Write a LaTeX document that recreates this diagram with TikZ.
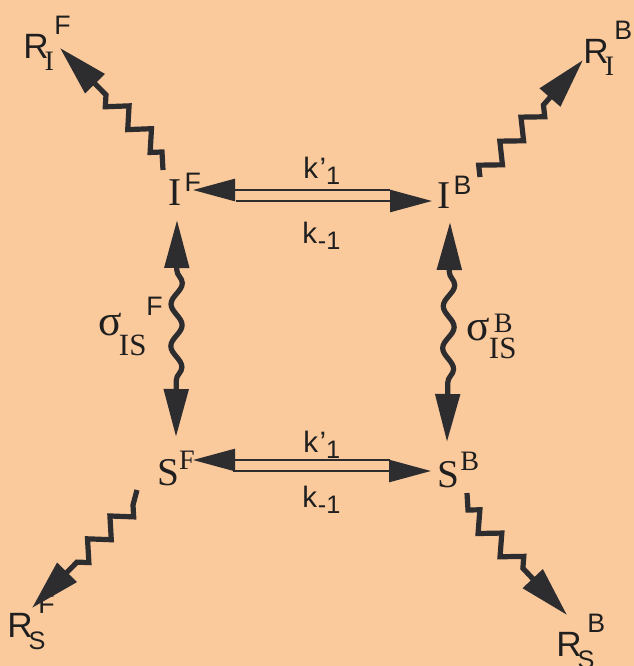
\documentclass[tikz,border=0pt]{standalone}
\usepackage{fontspec}
\setmainfont{Liberation Serif}
\setsansfont{Liberation Sans}
\usetikzlibrary{arrows.meta,decorations.pathmorphing}
\definecolor{peach}{RGB}{250,201,156}
\definecolor{ink}{RGB}{45,45,48}
\newcommand\bigrm{\fontsize{28}{30}\selectfont}
\newcommand\midsf{\sffamily\fontsize{25}{27}\selectfont}
\newcommand\smsf{\sffamily\fontsize{19}{21}\selectfont}
\newcommand\smrm{\fontsize{20}{22}\selectfont}
\newcommand\tinysf{\sffamily\fontsize{18}{20}\selectfont}
\newcommand\rlab[2]{{\midsf R}\kern-0.1cm\rlap{\raisebox{-0.3cm}{#1}}\kern0.24cm\raisebox{0.6cm}{\smsf #2}}
\newcommand\kfwd{\sffamily\fontsize{21}{23}\selectfont k\kern0.04cm’\raisebox{-0.15cm}{\tinysf 1}}
\newcommand\kbwd{\sffamily\fontsize{21}{23}\selectfont k\kern0.02cm\raisebox{-0.17cm}{\tinysf -1}}
\tikzset{
  lab/.style={anchor=base west,inner sep=0pt,text=black!88},
  wavy/.style={ink,line width=0.13cm,{Triangle[length=1.2cm,width=0.6cm]}-{Triangle[length=1.2cm,width=0.6cm]},
    decorate,decoration={snake,amplitude=0.14cm,segment length=1.05cm,pre length=1.25cm,post length=1.25cm}},
  zz/.style={ink,line width=0.13cm,-{Triangle[length=1.25cm,width=0.66cm]}},
  zzdeco/.style={decoration={zigzag,amplitude=0.22cm,segment length=0.8cm,post length=1.3cm}},
  rx/.style={ink,line width=0.065cm,-{Triangle[length=1.05cm,width=0.55cm]}}
}

\begin{document}
\begin{tikzpicture}
\useasboundingbox (0.000,0.000) rectangle (15.850,-16.650);
\fill[peach] (0.000,0.000) rectangle (15.850,-16.650);
\node[lab] (IF) at (4.200,-5.125) {\bigrm I\kern0.08cm\raisebox{0.35cm}{\smsf F}};
\node[lab] (IB) at (10.925,-5.200) {\bigrm I\kern0.08cm\raisebox{0.33cm}{\smsf B}};
\node[lab] (SF) at (3.925,-12.125) {\bigrm S\raisebox{0.38cm}{\smrm F}};
\node[lab] (SB) at (10.925,-12.175) {\bigrm S\kern0.03cm\raisebox{0.42cm}{\smrm B}};
\node[lab] (RIF) at (0.575,-1.450) {\rlab{\smrm I}{F}};
\node[lab] (RIB) at (14.580,-1.575) {\rlab{\smrm I}{B}};
\node[lab] (RSF) at (0.175,-15.925) {\rlab{\tinysf S}{F}};
\node[lab] (RSB) at (13.900,-16.400) {\rlab{\tinysf S}{B}};
\node[lab] (sgF) at (2.450,-8.375) {\fontsize{31}{33}\selectfont σ\kern-0.07cm\raisebox{-0.5cm}{\fontsize{22}{24}\selectfont IS}\raisebox{0.5cm}{\smsf F}};
\node[lab] (sgB) at (11.650,-8.500) {\fontsize{31}{33}\selectfont σ\kern-0.02cm\rlap{\raisebox{-0.45cm}{\fontsize{22}{24}\selectfont IS}}\kern0.12cm\raisebox{0.2cm}{\smrm B}};
\node[lab] (kIf) at (7.575,-4.450) {\kfwd};
\node[lab] (kIr) at (7.550,-6.075) {\kbwd};
\node[lab] (kSf) at (7.575,-11.300) {\kfwd};
\node[lab] (kSr) at (7.550,-12.675) {\kbwd};
\coordinate (IFup) at (4.825,-4.750);
\coordinate (IFlo) at (5.900,-5.025);
\coordinate (IBup) at (9.750,-4.750);
\coordinate (IBlo) at (10.800,-5.025);
\coordinate (SFup) at (4.825,-11.500);
\coordinate (SFlo) at (5.825,-11.775);
\coordinate (SBup) at (9.750,-11.500);
\coordinate (SBlo) at (10.775,-11.775);
\draw[rx] (IBup) -- (IFup);
\draw[rx] (IFlo) -- (IBlo);
\draw[rx] (SBup) -- (SFup);
\draw[rx] (SFlo) -- (SBlo);
\coordinate (IFs) at (4.425,-5.500);
\coordinate (SFn) at (4.400,-10.925);
\coordinate (IBs) at (11.250,-5.550);
\coordinate (SBn) at (11.175,-11.050);
\draw[wavy] (IFs) -- (SFn);
\draw[wavy] (IBs) -- (SBn);
\coordinate (IFnw) at (4.075,-4.250);
\coordinate (IFk) at (4.050,-3.800);
\coordinate (RIFt) at (1.500,-1.200);
\coordinate (IBne) at (12.000,-4.425);
\coordinate (RIBt) at (14.575,-1.500);
\coordinate (SFsw) at (3.425,-12.250);
\coordinate (SFk) at (3.325,-12.625);
\coordinate (RSFt) at (0.800,-15.200);
\coordinate (SBse) at (11.675,-12.325);
\coordinate (SBk) at (11.700,-12.750);
\coordinate (RSBt) at (14.175,-15.375);
\draw[zz] (IFnw) -- (IFk) decorate[zzdeco]{-- (RIFt)};
\draw[zz] decorate[zzdeco]{(IBne) -- (RIBt)};
\draw[zz] (SFsw) -- (SFk) decorate[zzdeco]{-- (RSFt)};
\draw[zz] (SBse) -- (SBk) decorate[zzdeco]{-- (RSBt)};
\end{tikzpicture}
\end{document}
